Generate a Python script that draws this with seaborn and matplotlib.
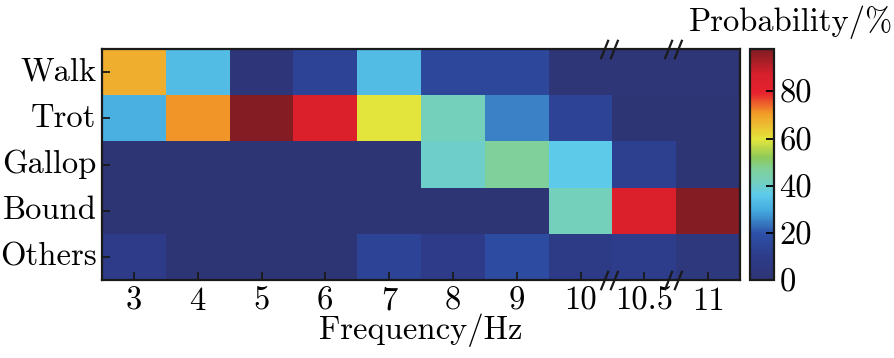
import numpy as np
import pandas as pd
import matplotlib
matplotlib.use("Agg")
import matplotlib.pyplot as plt
import seaborn as sns
from matplotlib.colors import LinearSegmentedColormap
from matplotlib.path import Path
import matplotlib.transforms as mtransforms

gaits = ["Walk", "Trot", "Gallop", "Bound", "Others"]
freqs = ["3", "4", "5", "6", "7", "8", "9", "10", "10.5", "11"]

walk = [68, 33, 2, 14, 33, 15, 15, 1, 1, 1]
trot = [31, 71, 97, 85, 60, 42, 25, 14, 0, 0]
gallop = [0, 0, 0, 0, 0, 40, 47, 36, 12, 0]
bound = [0, 0, 0, 0, 0, 0, 0, 42, 85, 97]
others = [9, 0, 0, 0, 14, 9, 17, 8, 10, 4]

cbar_ticks = [0, 20, 40, 60, 80]

df = pd.DataFrame([walk, trot, gallop, bound, others], index=gaits, columns=freqs)

cmap = LinearSegmentedColormap.from_list("mjet", [
    (0.00, "#2e3575"),
    (0.10, "#2d3c8a"),
    (0.20, "#2d50a8"),
    (0.30, "#44aadf"),
    (0.37, "#5ecbea"),
    (0.42, "#72cfc0"),
    (0.48, "#80d09a"),
    (0.53, "#8ec95a"),
    (0.61, "#e4e63c"),
    (0.72, "#f39d28"),
    (0.81, "#e6222e"),
    (0.89, "#d8202c"),
    (1.00, "#7e1d22"),
])

plt.rcParams["font.family"] = ["cmr10", "DejaVu Serif"]
plt.rcParams["axes.formatter.use_mathtext"] = True
plt.rcParams["mathtext.fontset"] = "cm"

W, H = 894, 358
fig = plt.figure(figsize=(W / 100, H / 100), dpi=100)
ax = fig.add_axes([102 / W, (H - 280) / H, 638 / W, 231 / H])
cax = fig.add_axes([750 / W, (H - 280) / H, 24 / W, 231 / H])

sns.heatmap(df, ax=ax, cmap=cmap, vmin=0, vmax=98, cbar_ax=cax,
            cbar_kws={"ticks": cbar_ticks})

fs = 23.5
for s in ax.spines.values():
    s.set_visible(True)
    s.set_linewidth(1.6)
    s.set_color("#1a1a1a")
ax.tick_params(axis="both", direction="in", length=6, width=1.3,
               labelsize=fs, color="#1a1a1a")
ax.tick_params(axis="x", pad=5)
ax.tick_params(axis="y", pad=4)
ax.set_yticklabels(gaits, rotation=0)
ax.set_xticklabels(freqs, rotation=0)
ax.set_xlabel("Frequency/Hz", fontsize=fs, labelpad=-2)
ax.set_ylabel("")

cax.tick_params(direction="in", length=6, width=1.3, labelsize=fs, pad=4,
                right=True, left=False)
cax.set_yticklabels([str(t) for t in cbar_ticks])
cb = ax.collections[0].colorbar
cb.outline.set_visible(True)
cb.outline.set_linewidth(1.6)
cb.outline.set_edgecolor("#1a1a1a")

fig.text(0.999, 1 - 22 / H, "Probability/%", ha="right", va="center", fontsize=fs)

# axis break marks at column boundaries
brk = Path([(-0.9, -1), (-0.1, 1), (0.1, -1), (0.9, 1)],
           [Path.MOVETO, Path.LINETO, Path.MOVETO, Path.LINETO])
blend = mtransforms.blended_transform_factory(ax.transData, ax.transAxes)
for xb in (8, 9):
    for yb in (0, 1):
        ax.plot([xb - 0.05], [yb], marker=brk, markersize=14, mew=1.6,
                color="#1a1a1a", transform=blend, clip_on=False, zorder=10)

fig.savefig("out.png", dpi=100)
